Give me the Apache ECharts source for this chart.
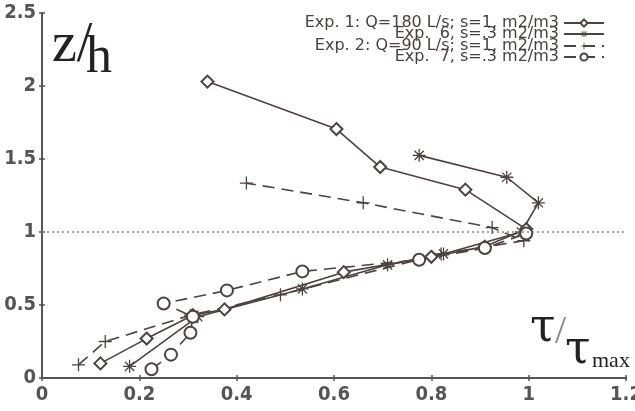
<!DOCTYPE html>
<html><head><meta charset="utf-8">
<script src="https://cdn.jsdelivr.net/npm/echarts@6/dist/echarts.min.js"></script>
<style>html,body{margin:0;padding:0;background:#fff}#c{width:635px;height:411px}</style>
</head><body><div id="c"></div>
<script>
// Data (x = tau/tau_max, y = z/h)
const names = ['Exp. 1: Q=180 L/s; s=1, m2/m3', 'Exp.  6, s=.3 m2/m3', 'Exp. 2: Q=90 L/s; s=1, m2/m3', 'Exp.  7, s=.3 m2/m3'];
const exp1 = [[0.12,0.10],[0.215,0.27],[0.31,0.43],[0.375,0.47],[0.62,0.725],[0.80,0.83],[0.91,0.90],[0.995,1.02],[0.87,1.29],[0.695,1.445],[0.605,1.705],[0.34,2.03]];
const exp6 = [[0.18,0.08],[0.32,0.42],[0.535,0.61],[0.71,0.775],[0.825,0.85],[0.985,1.0],[1.02,1.20],[0.955,1.375],[0.775,1.525]];
const exp2 = [[0.075,0.09],[0.13,0.25],[0.305,0.43],[0.49,0.57],[0.82,0.85],[0.99,0.94],[0.925,1.03],[0.66,1.20],[0.42,1.335]];
const exp7 = [[0.225,0.06],[0.265,0.16],[0.305,0.31],[0.31,0.42],[0.25,0.51],[0.38,0.60],[0.535,0.73],[0.775,0.81],[0.91,0.89],[0.995,0.99]];
const refLineY = 1;
const xTicks = {min: 0, max: 1.2, interval: 0.2};
const yTicks = {min: 0, max: 2.5, interval: 0.5};

const C = '#4d4242';
const starPath = 'path://M9,0h2v20h-2z M0,9h20v2h-20z M2.2,3.6l1.4,-1.4l14.2,14.2l-1.4,1.4z M3.6,17.8l-1.4,-1.4l14.2,-14.2l1.4,1.4z';
const plusPath = 'path://M0,9h20v2h-20z M9,0h2v20h-2z';
const condensed = '"DejaVu Sans Condensed", "Liberation Sans Narrow", "Liberation Sans", sans-serif';
const lblFont = {fontFamily: condensed, fontSize: 20, color: '#555', fontWeight: 'bold'};

const chart = echarts.init(document.getElementById('c'), null, {renderer: 'canvas'});
const legendTops = [15, 26, 38, 49];
const legends = names.map((n, i) => ({
  data: [n], right: 30, top: legendTops[i], align: 'right', orient: 'vertical',
  itemWidth: 40, itemHeight: 9, itemGap: 0, padding: 0,
  textStyle: {fontSize: 16, lineHeight: 11, fontFamily: '"DejaVu Sans", sans-serif', color: '#4a4040', padding: [0, 0, 0, 0]}
}));
const axisLine = {show: true, lineStyle: {color: '#555', width: 2}};
const tick = {show: true, inside: true, length: 3, lineStyle: {color: '#555', width: 1.5}};
chart.setOption({
  animation: false,
  backgroundColor: '#fff',
  grid: {left: 42, right: 9, top: 13, bottom: 33, containLabel: false, outerBoundsMode: 'none'},
  legend: legends,
  xAxis: [
    {type: 'value', min: xTicks.min, max: xTicks.max, interval: xTicks.interval, splitLine: {show: false},
     axisLine: axisLine, axisTick: tick, axisLabel: Object.assign({margin: 7}, lblFont)},
    {type: 'value', position: 'top', min: xTicks.min, max: xTicks.max, interval: xTicks.interval, splitLine: {show: false},
     axisLine: axisLine, axisTick: tick, axisLabel: {show: false}}
  ],
  yAxis: [
    {type: 'value', min: yTicks.min, max: yTicks.max, interval: yTicks.interval, splitLine: {show: false},
     axisLine: axisLine, axisTick: tick, axisLabel: Object.assign({margin: 6}, lblFont)},
    {type: 'value', position: 'right', min: yTicks.min, max: yTicks.max, interval: yTicks.interval, splitLine: {show: false},
     axisLine: axisLine, axisTick: tick, axisLabel: {show: false}}
  ],
  graphic: [
    {type: 'text', left: 52, top: 18, style: {text: 'z/', font: '56px "Liberation Serif", serif', fill: '#222'}},
    {type: 'text', left: 86, top: 32, style: {text: 'h', font: '52px "Liberation Serif", serif', fill: '#222'}},
    {type: 'text', left: 530, top: 306, style: {text: 'τ', font: '46px "DejaVu Serif", serif', fill: '#222'}},
    {type: 'text', left: 555, top: 312, style: {text: '/', font: '40px "Liberation Serif", serif', fill: '#888'}},
    {type: 'text', left: 565, top: 328, style: {text: 'τ', font: '46px "DejaVu Serif", serif', fill: '#222'}},
    {type: 'text', left: 592, top: 350, style: {text: 'max', font: '22px "Liberation Serif", serif', fill: '#222'}}
  ],
  series: [
    {name: names[0], type: 'line', data: exp1, symbol: 'emptyDiamond', symbolSize: 12, color: C,
     lineStyle: {width: 1.6, color: C}, itemStyle: {borderWidth: 1.5, color: C}, z: 3,
     markLine: {silent: true, symbol: 'none', label: {show: false},
       lineStyle: {type: [2, 3], color: '#888', width: 1.5}, data: [{yAxis: refLineY}]}},
    {name: names[1], type: 'line', data: exp6, symbol: starPath, symbolSize: 13, color: C,
     lineStyle: {width: 1.6, color: C}, itemStyle: {color: C}, z: 3},
    {name: names[2], type: 'line', data: exp2, symbol: plusPath, symbolSize: 13, color: C,
     lineStyle: {width: 1.6, color: C, type: [12, 7]}, itemStyle: {color: C}, z: 3},
    {name: names[3], type: 'line', data: exp7, symbol: 'emptyCircle', symbolSize: 12, color: C,
     lineStyle: {width: 1.6, color: C, type: [12, 7]}, itemStyle: {borderWidth: 1.5, color: C}, z: 3}
  ]
});
</script></body></html>
